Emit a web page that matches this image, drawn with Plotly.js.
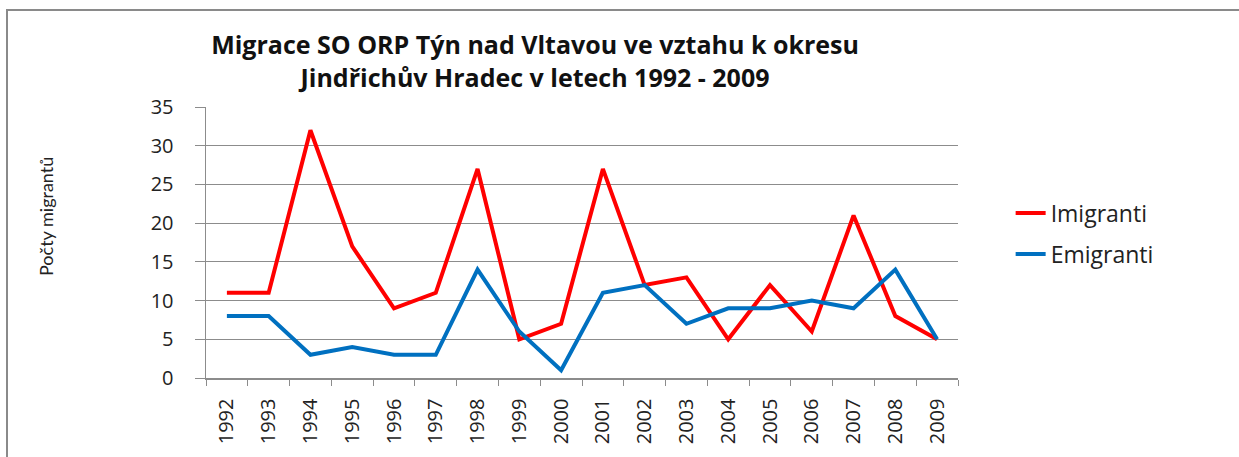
<!DOCTYPE html>
<html>
<head>
<meta charset="utf-8">
<script src="https://cdn.plot.ly/plotly-3.0.1.min.js"></script>
<style>
html,body{margin:0;padding:0;background:#fff;}
#wrap{position:relative;width:1239px;height:457px;overflow:hidden;}
#chart{position:absolute;left:0;top:0;width:1239px;height:457px;}
#border{position:absolute;left:6px;top:9px;width:1240px;height:460px;border-left:2px solid #8a8a8a;border-top:2px solid #8a8a8a;pointer-events:none;}
</style>
</head>
<body>
<div id="wrap"><div id="chart"></div><div id="border"></div></div>
<script>
var years = ['1992','1993','1994','1995','1996','1997','1998','1999','2000','2001','2002','2003','2004','2005','2006','2007','2008','2009'];
var imigranti = [11,11,32,17,9,11,27,5,7,27,12,13,5,12,6,21,8,5];
var emigranti = [8,8,3,4,3,3,14,6,1,11,12,7,9,9,10,9,14,5];
var titleLines = ['Migrace SO ORP Týn nad Vltavou ve vztahu k okresu', 'Jindřichův Hradec v letech 1992 - 2009'];
var yTitle = 'Počty migrantů';

var FONT = '"Open Sans", sans-serif';
var traces = [
  {x: years, y: imigranti, name: 'Imigranti', legendgroup: 'a', type: 'scatter', mode: 'lines',
   line: {color: '#FF0000', width: 4}},
  {x: years, y: emigranti, name: 'Emigranti', legendgroup: 'b', type: 'scatter', mode: 'lines',
   line: {color: '#0070C0', width: 4}}
];
var layout = {
  width: 1239, height: 457,
  margin: {l: 206, r: 281, t: 107, b: 79},
  paper_bgcolor: '#fff', plot_bgcolor: '#fff',
  font: {family: FONT, color: '#222'},
  title: {text: titleLines.map(function(s){return '<b>' + s + '</b>';}).join('<br>'),
          x: 0.4375, xref: 'paper', xanchor: 'center', y: (457 - 54) / 457, yref: 'container', yanchor: 'middle',
          font: {family: FONT, size: 25, color: '#111'}},
  showlegend: true,
  legend: {x: 1.07, y: 0.533, xanchor: 'left', yanchor: 'middle', traceorder: 'grouped',
           font: {family: FONT, size: 23, color: '#222'},
           tracegroupgap: 8, bgcolor: 'rgba(0,0,0,0)'},
  xaxis: {type: 'category', range: [-0.5, 17.5], tickson: 'boundaries', ticks: 'outside', ticklen: 6,
          tickcolor: '#8c8c8c', showline: true, linecolor: '#8c8c8c', linewidth: 1.5, ticklabelstandoff: 11,
          showgrid: false, tickangle: -90, tickfont: {family: FONT, size: 20, color: '#222'}, fixedrange: true},
  yaxis: {range: [0, 35], dtick: 5, tick0: 0, ticks: 'outside', ticklen: 10, tickcolor: '#8c8c8c',
          showline: true, linecolor: '#8c8c8c', linewidth: 1.5, showgrid: true, gridcolor: '#8c8c8c', gridwidth: 1,
          ticklabelstandoff: 17,
          zeroline: false, tickfont: {family: FONT, size: 20, color: '#222'}, fixedrange: true},
  annotations: [{text: yTitle, xref: 'paper', yref: 'paper', x: (46 - 206) / 752, y: (378 - 217) / 271,
                 xanchor: 'center', yanchor: 'middle', textangle: -90, showarrow: false,
                 font: {family: 'Lato, sans-serif', size: 18, color: '#222'}}]
};
Plotly.newPlot('chart', traces, layout, {displayModeBar: false, staticPlot: true});
</script>
</body>
</html>
